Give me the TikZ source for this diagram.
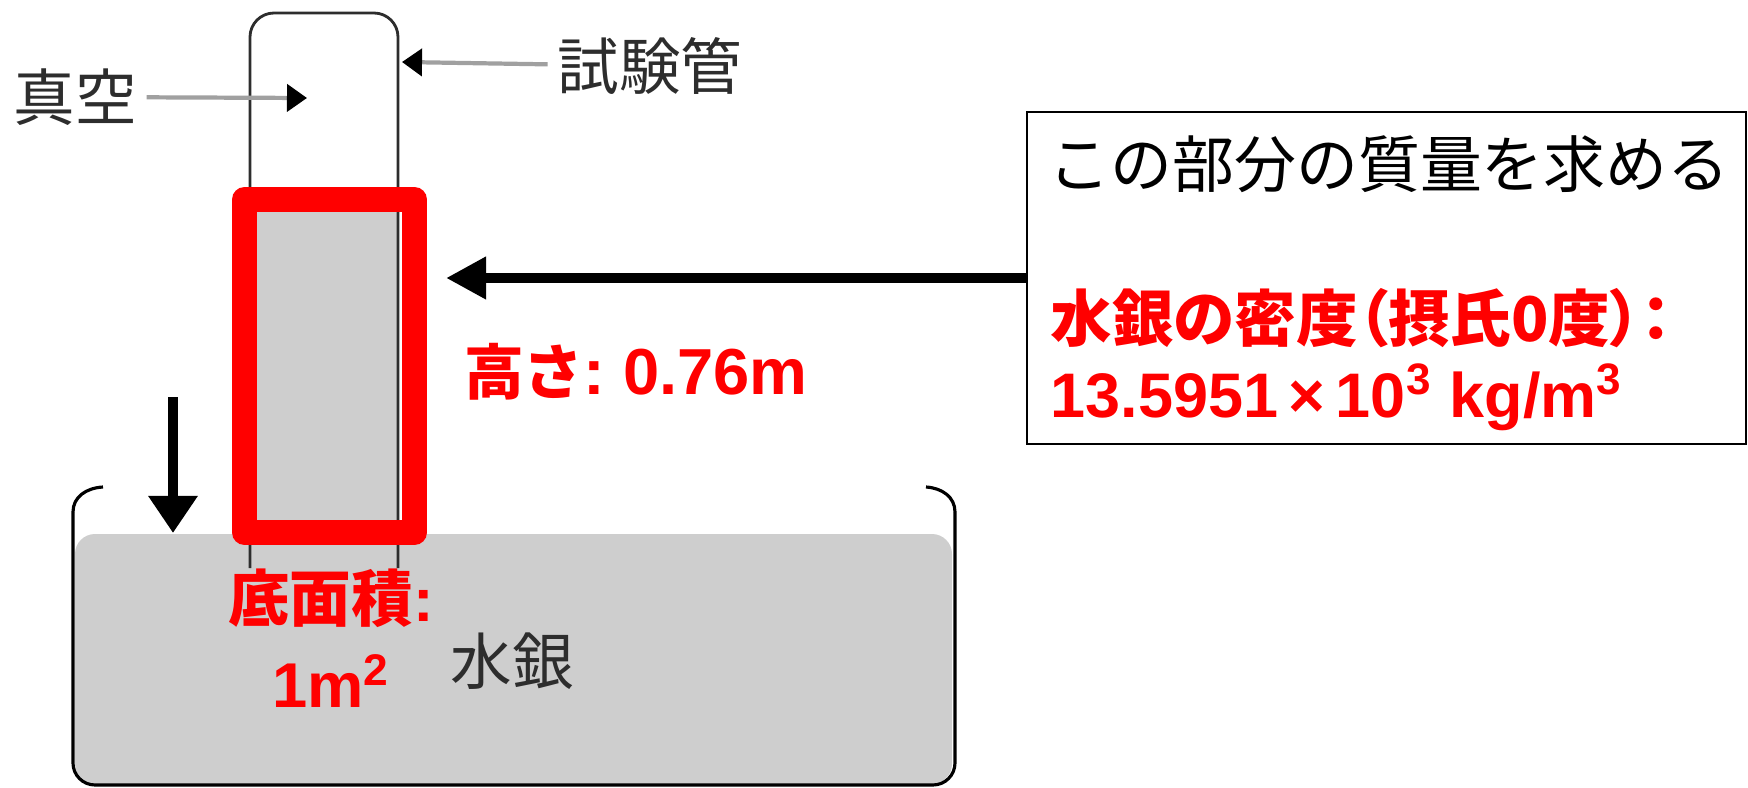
\documentclass[tikz,border=0pt]{standalone}
\usepackage{fontspec}
\setmainfont{Liberation Sans}
\newfontfamily\jp{Noto Sans CJK JP}
\newfontfamily\jpp[RawFeature=+palt]{Noto Sans CJK JP}
\usetikzlibrary{positioning,arrows.meta}
\definecolor{hggray}{RGB}{206,206,206}
\definecolor{lblgray}{RGB}{45,45,45}
\definecolor{linegray}{RGB}{160,160,160}

\begin{document}
\begin{tikzpicture}[x=0.01cm,y=-0.01cm,
    lbl/.style={inner sep=0pt,outer sep=0.1cm,text=lblgray,font=\jp\fontsize{17.5}{20}\selectfont},
    redlbl/.style={inner sep=0pt,text=red,font=\jp\bfseries\fontsize{17.5}{20}\selectfont},
    thinarrow/.style={draw=linegray,line width=1.2pt,-{Triangle[length=0.2cm,width=0.27cm,color=black]}},
    basin/.style={line width=0.9pt}]
\useasboundingbox (0,0) rectangle (1748,788);

% mercury and basin
\fill[hggray,rounded corners=0.2cm] (75,534) rectangle (952,784);
\draw[basin,rounded corners=0.22cm] (73,512) -- (73,785) -- (955,785) -- (955,512);
\draw[basin] (73,512) .. controls (73,497) and (86,488) .. (103,487);
\draw[basin] (955,512) .. controls (955,497) and (942,488) .. (926,487);

% test tube
\fill[hggray] (250,200) rectangle (398,534);
\draw[lblgray,line width=0.8pt,rounded corners=0.24cm] (250,568) -- (250,13) -- (398,13) -- (398,568);
\draw[red,line width=0.25cm,line join=round] (244.5,199.5) rectangle (414.5,532.5);

% labels
\node (vac) [lbl] at (75,97) {真空};
\coordinate (vacpt) at (307,98);
\draw[thinarrow] (vac) -- (vacpt);
\node (tubelbl) [lbl] at (650,66) {試験管};
\coordinate (wall) at (402,62);
\draw[thinarrow] (tubelbl) -- (wall);
\node (hgt) [redlbl,font=\jp\bfseries\fontsize{17}{20}\selectfont] at (636,372) {高さ{\rmfamily\fontsize{18.5}{20}\selectfont :\ 0.76m}};
\node (base) [redlbl] at (331,598) {底面積{\rmfamily :}};
\node (area) [text=red,font=\bfseries\fontsize{18}{20}\selectfont,inner sep=0pt,below=0.26cm of base] {1m\textsuperscript{2}};
\node (hg) [lbl] at (512,661) {水銀};

% surface arrow
\coordinate (dtop) at (173,397);
\coordinate (dsurf) at (173,533);
\draw[line width=0.1cm,-{Triangle[length=0.37cm,width=0.47cm]}] (dtop) -- (dsurf);

% info box
\node (info) [draw,line width=0.6pt,minimum width=7.19cm,minimum height=3.32cm,inner sep=0pt] at (1386.5,278) {};
\node (goal) [anchor=west,inner sep=0pt,font=\jp\fontsize{17.6}{20}\selectfont] at (1048,164) {この部分の質量を求める};
\node (rho) [redlbl,font=\jpp\bfseries\fontsize{17.5}{20}\selectfont,anchor=west] at (1050,318) {水銀の密度（摂氏0度）：};
\node (val) [anchor=base west,inner sep=0pt,text=red,font=\bfseries\fontsize{17.9}{20}\selectfont] at (1050,417) {13.5951\,×\,10\textsuperscript{3} kg/m\textsuperscript{3}};
\coordinate (redtip) at (446,278);
\draw[line width=0.1cm,-{Triangle[length=0.4cm,width=0.4cm]}] (info) -- (redtip);
\end{tikzpicture}
\end{document}
